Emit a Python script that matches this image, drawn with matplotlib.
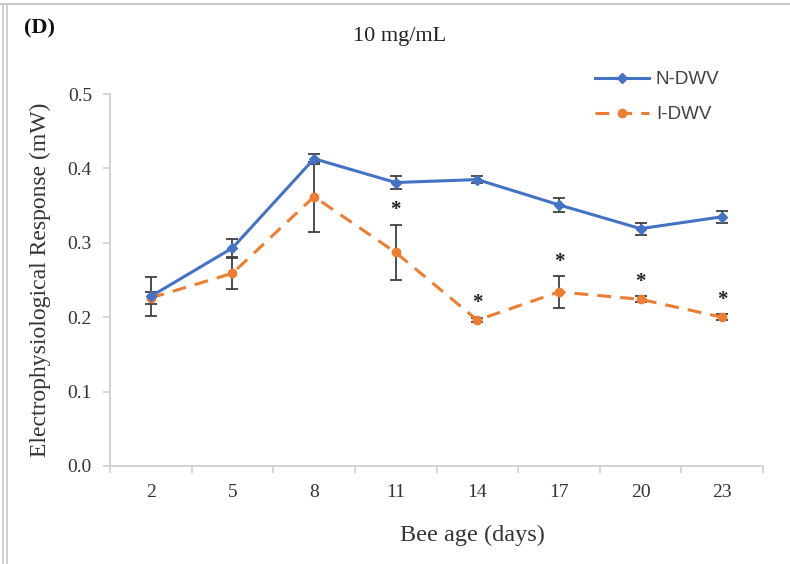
import matplotlib
matplotlib.use("Agg")
import matplotlib.pyplot as plt
from matplotlib.lines import Line2D
import numpy as np

# Bee age (days) and mean electrophysiological response (mW) with SE
days = ["2", "5", "8", "11", "14", "17", "20", "23"]
n_dwv_mean = [0.228, 0.293, 0.413, 0.381, 0.385, 0.351, 0.319, 0.335]
n_dwv_err = [0.026, 0.012, 0.007, 0.009, 0.005, 0.009, 0.008, 0.008]
i_dwv_mean = [0.226, 0.259, 0.362, 0.287, 0.196, 0.234, 0.224, 0.200]
i_dwv_err = [0.008, 0.021, 0.047, 0.037, 0.003, 0.021, 0.004, 0.004]
# days where I-DWV differs significantly from N-DWV
significant = [False, False, False, True, True, True, True, True]

serif = "Liberation Serif"
sans = "Liberation Sans"
blue = "#4472C4"
orange = "#ED7D31"
axis_grey = "#D0D0D0"

W, H = 790, 564
fig = plt.figure(figsize=(W / 100, H / 100), dpi=100)
x_left, x_right, y_bottom, y_top = 110, 763, 466, 94
ax = fig.add_axes([x_left / W, 1 - y_bottom / H, (x_right - x_left) / W, (y_bottom - y_top) / H])

x = np.arange(len(days))

ax.errorbar(x, n_dwv_mean, yerr=n_dwv_err, fmt="none", ecolor="#404040",
            elinewidth=1.3, capsize=4, capthick=1.3, zorder=2)
ax.errorbar(x, i_dwv_mean, yerr=i_dwv_err, fmt="none", ecolor="#404040",
            elinewidth=1.3, capsize=4, capthick=1.3, zorder=2)

ax.plot(x, n_dwv_mean, color=blue, lw=2.2, marker="D", ms=5.5,
        mfc=blue, mec=blue, label="N-DWV", zorder=4)
ax.plot(x, i_dwv_mean, color=orange, lw=2.2, ls=(0, (4.5, 3)), marker="o", ms=6,
        mfc=orange, mec=orange, label="I-DWV", zorder=3)

# significance asterisks above the I-DWV error bars
for xi, m, e, s in zip(x, i_dwv_mean, i_dwv_err, significant):
    if s:
        ax.text(xi, m + e + 0.006, "*", ha="center", va="bottom",
                fontsize=15, fontweight="bold", family=serif, color="#202020")

ax.set_xlim(-0.5, len(days) - 0.5)
ax.set_ylim(0, 0.5)
ax.set_yticks(np.arange(0, 0.51, 0.1))
ax.set_yticklabels([f"{v:.1f}" for v in np.arange(0, 0.51, 0.1)])
ax.set_xticks(x)
ax.set_xticklabels(days)
ax.set_xticks(np.arange(-0.5, len(days), 1), minor=True)

for side in ("top", "right"):
    ax.spines[side].set_visible(False)
for side in ("left", "bottom"):
    ax.spines[side].set_color(axis_grey)
    ax.spines[side].set_linewidth(1.3)

ax.tick_params(axis="x", which="major", length=0, pad=13, labelsize=14)
ax.tick_params(axis="x", which="minor", length=5, width=1.2, color=axis_grey, direction="out")
ax.tick_params(axis="y", which="major", length=5, width=1.2, color=axis_grey,
               direction="out", pad=8, labelsize=14)
for lab in ax.get_xticklabels() + ax.get_yticklabels():
    lab.set_family(serif)
    lab.set_color("#333333")

fig.text(472 / W, 1 - 535 / H, "Bee age (days)", family=serif, fontsize=17.5,
         ha="center", va="center", color="#333333")
ax.set_ylabel("Electrophysiological Response (mW)", family=serif, fontsize=17,
              color="#333333", labelpad=12)

fig.text(400 / W, 1 - 37 / H, "10 mg/mL", family=serif, fontsize=16,
         ha="center", va="center", color="#222222")
fig.text(24 / W, 1 - 28 / H, "(D)", family=serif, fontsize=16, fontweight="bold",
         ha="left", va="center", color="#111111")

leg = ax.legend(loc="upper left", bbox_to_anchor=(595 / W, 1 - 71 / H),
                bbox_transform=fig.transFigure, frameon=False,
                prop={"family": sans, "size": 13.5}, handlelength=2.9,
                handletextpad=0.35, labelspacing=0.97, borderpad=0, borderaxespad=0)
for t in leg.get_texts():
    t.set_color("#404040")

# frame lines along the top and left edges of the figure
fig.add_artist(Line2D([0, 1], [1 - 4 / H, 1 - 4 / H], transform=fig.transFigure,
                      color="#C8C8C8", lw=1.5))
fig.add_artist(Line2D([3 / W, 3 / W], [0, 1 - 4 / H], transform=fig.transFigure,
                      color="#C8C8C8", lw=1.2))
fig.add_artist(Line2D([7 / W, 7 / W], [0, 1 - 4 / H], transform=fig.transFigure,
                      color="#C8C8C8", lw=1.2))

fig.savefig("out.png", dpi=100)
